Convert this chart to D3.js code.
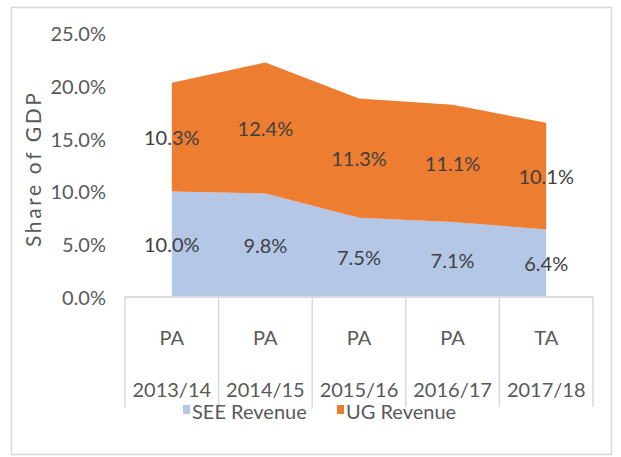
<!DOCTYPE html>
<html>
<head>
<meta charset="utf-8">
<script src="https://cdn.jsdelivr.net/npm/d3@7"></script>
<style>
  html, body { margin: 0; padding: 0; background: #fff; }
  svg text { font-family: Lato, "Open Sans", sans-serif; }
</style>
</head>
<body>
<svg id="chart" width="621" height="457"></svg>
<script>
// Revenue as a share of GDP, stacked by source
const years = ["2013/14", "2014/15", "2015/16", "2016/17", "2017/18"];
const status = ["PA", "PA", "PA", "PA", "TA"];
const seeRevenue = [10.0, 9.8, 7.5, 7.1, 6.4];
const ugRevenue = [10.3, 12.4, 11.3, 11.1, 10.1];
const yTicks = [0, 5, 10, 15, 20, 25];
const seriesNames = ["SEE Revenue", "UG Revenue"];
const seriesColors = ["#b4c7e7", "#ed7d31"];

const FS = 20;
const svg = d3.select("#chart");

// outer frame
svg.append("rect")
  .attr("x", 11.5).attr("y", 7.5).attr("width", 600).attr("height", 447)
  .attr("fill", "#fff").attr("stroke", "#d9d9d9").attr("stroke-width", 1.5);

const plot = { left: 125, right: 593, top: 33, bottom: 297 };

const x = d3.scaleBand().domain(d3.range(years.length))
  .range([plot.left, plot.right]).paddingInner(0).paddingOuter(0);
const cx = i => x(i) + x.bandwidth() / 2;
const y = d3.scaleLinear().domain([0, 25]).range([plot.bottom, plot.top]);

const rows = years.map((yr, i) => ({ i, see: seeRevenue[i], ug: ugRevenue[i] }));
const layers = d3.stack().keys(["see", "ug"])(rows);

const area = d3.area()
  .x(d => cx(d.data.i))
  .y0(d => y(d[0]))
  .y1(d => y(d[1]));

svg.append("g").selectAll("path")
  .data(layers).join("path")
  .attr("d", area)
  .attr("fill", (d, k) => seriesColors[k]);

// value axis labels
svg.append("g").selectAll("text")
  .data(yTicks).join("text")
  .attr("x", 106).attr("y", d => y(d))
  .attr("text-anchor", "end").attr("dominant-baseline", "central")
  .attr("font-size", FS).attr("fill", "#595959")
  .text(d => d.toFixed(1) + "%");

// axis title
svg.append("text")
  .attr("transform", "translate(32,170) rotate(-90)")
  .attr("text-anchor", "middle").attr("dominant-baseline", "central")
  .attr("font-size", 21).attr("fill", "#595959")
  .attr("textLength", 154).attr("lengthAdjust", "spacing")
  .text("Share of GDP");

// category axis: baseline and multi-level dividers
const axisColor = "#d9d9d9";
svg.append("line")
  .attr("x1", plot.left).attr("x2", plot.right)
  .attr("y1", plot.bottom).attr("y2", plot.bottom)
  .attr("stroke", axisColor).attr("stroke-width", 2);
const dividers = d3.range(years.length + 1).map(i => plot.left + i * x.bandwidth());
svg.append("g").selectAll("line")
  .data(dividers).join("line")
  .attr("x1", d => d).attr("x2", d => d)
  .attr("y1", plot.bottom).attr("y2", 407)
  .attr("stroke", axisColor).attr("stroke-width", 1.5);

const catG = svg.append("g");
catG.selectAll("text.status")
  .data(status).join("text").attr("class", "status")
  .attr("x", (d, i) => cx(i)).attr("y", 337)
  .attr("text-anchor", "middle").attr("dominant-baseline", "central")
  .attr("font-size", FS).attr("fill", "#595959")
  .text(d => d);
catG.selectAll("text.year")
  .data(years).join("text").attr("class", "year")
  .attr("x", (d, i) => cx(i)).attr("y", 389)
  .attr("text-anchor", "middle").attr("dominant-baseline", "central")
  .attr("font-size", FS).attr("fill", "#595959")
  .text(d => d);

// data labels centred in each band
const labelG = svg.append("g");
layers.forEach((layer, k) => {
  labelG.selectAll(null)
    .data(layer).join("text")
    .attr("x", d => cx(d.data.i))
    .attr("y", d => y((d[0] + d[1]) / 2))
    .attr("text-anchor", "middle").attr("dominant-baseline", "central")
    .attr("font-size", FS).attr("fill", "#404040")
    .text(d => (d[1] - d[0]).toFixed(1) + "%");
});

// legend
const legendX = [183, 337];
const lg = svg.append("g");
seriesNames.forEach((name, k) => {
  lg.append("rect")
    .attr("x", legendX[k]).attr("y", 405)
    .attr("width", 7).attr("height", 9)
    .attr("fill", seriesColors[k]);
  lg.append("text")
    .attr("x", legendX[k] + 9).attr("y", 411)
    .attr("dominant-baseline", "central")
    .attr("font-size", FS).attr("fill", "#595959")
    .text(name);
});
</script>
</body>
</html>
